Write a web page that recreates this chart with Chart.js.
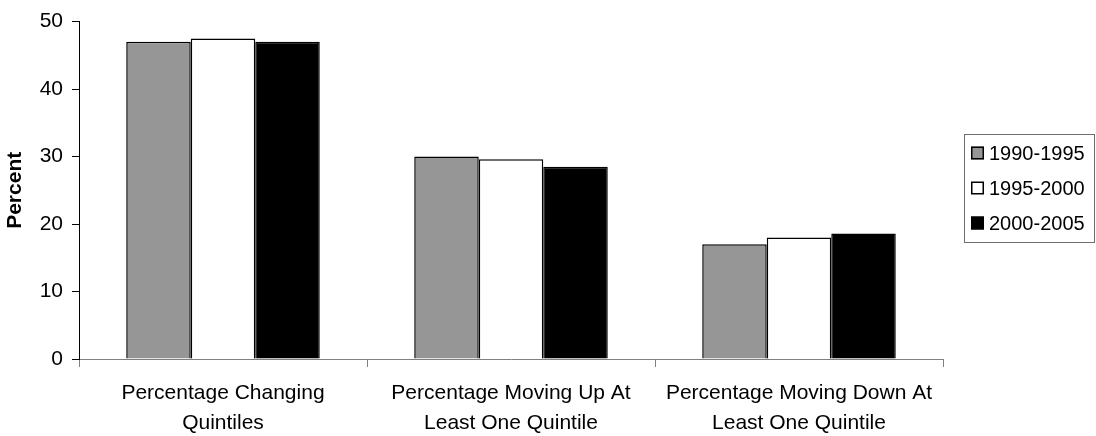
<!DOCTYPE html>
<html>
<head>
<meta charset="utf-8">
<script src="https://cdn.jsdelivr.net/npm/chart.js@4/dist/chart.umd.min.js"></script>
<style>
  html, body { margin: 0; padding: 0; background: #fff; }
  #wrap { width: 1096px; height: 436px; }
</style>
</head>
<body>
<div id="wrap"><canvas id="c" width="1096" height="436"></canvas></div>
<script>
// Categories (two-line labels) and the three period series
const categories = [
  ['Percentage Changing', 'Quintiles'],
  ['Percentage Moving Up At', 'Least One Quintile'],
  ['Percentage Moving Down At', 'Least One Quintile']
];
const seriesNames = ['1990-1995', '1995-2000', '2000-2005'];
const values1990 = [47, 30, 17];
const values1995 = [47.5, 29.6, 18];
const values2000 = [47, 28.5, 18.6];
const seriesColors = ['#969696', '#ffffff', '#000000'];
const yTicks = [0, 10, 20, 30, 40, 50];

const FONT = '"Liberation Sans", Arial, Helvetica, sans-serif';

// Boxed legend on the right, built from the chart's datasets
const boxedLegend = {
  id: 'boxedLegend',
  afterDraw(chart) {
    const ctx = chart.ctx;
    const x0 = 964, y0 = 134, w = 131, h = 108;
    ctx.save();
    ctx.strokeStyle = '#6e6e6e';
    ctx.lineWidth = 1;
    ctx.strokeRect(x0 + 0.5, y0 + 0.5, w - 1, h);
    ctx.font = '20px ' + FONT;
    ctx.textBaseline = 'middle';
    ctx.textAlign = 'left';
    chart.data.datasets.forEach((ds, i) => {
      const cy = 153 + i * 35;
      ctx.fillStyle = ds.backgroundColor;
      ctx.fillRect(971, cy - 6.5, 13, 13);
      ctx.strokeStyle = '#000';
      ctx.lineWidth = 1.5;
      ctx.strokeRect(971.75, cy - 5.75, 11.5, 11.5);
      ctx.fillStyle = '#000';
      ctx.fillText(ds.label, 989, cy + 1);
    });
    ctx.restore();
  }
};

new Chart(document.getElementById('c'), {
  type: 'bar',
  data: {
    labels: categories,
    datasets: [
      { label: seriesNames[0], data: values1990, backgroundColor: seriesColors[0] },
      { label: seriesNames[1], data: values1995, backgroundColor: seriesColors[1] },
      { label: seriesNames[2], data: values2000, backgroundColor: seriesColors[2] }
    ].map(d => Object.assign(d, {
      borderColor: '#000',
      borderWidth: 1.5,
      categoryPercentage: 0.672,
      barPercentage: 1.0
    }))
  },
  options: {
    responsive: false,
    animation: false,
    devicePixelRatio: 1,
    layout: { padding: { left: 0, right: 153, top: 17, bottom: 0 } },
    plugins: {
      legend: { display: false },
      tooltip: { enabled: false }
    },
    scales: {
      x: {
        grid: {
          display: true,
          drawOnChartArea: false,
          drawTicks: true,
          tickLength: 8,
          color: '#808080',
          offset: true
        },
        border: { display: true, color: '#808080', width: 1 },
        ticks: {
          color: '#000',
          padding: 11,
          maxRotation: 0,
          autoSkip: false,
          font: { family: FONT, size: 21, lineHeight: 1.43 }
        },
        afterFit(scale) { scale.height = 77; }
      },
      y: {
        min: 0,
        max: 50,
        afterBuildTicks(scale) { scale.ticks = yTicks.map(v => ({ value: v })); },
        grid: {
          display: true,
          drawOnChartArea: false,
          drawTicks: true,
          tickLength: 7,
          color: '#000'
        },
        border: { display: true, color: '#000', width: 1 },
        ticks: {
          color: '#000',
          padding: 9,
          font: { family: FONT, size: 21 }
        },
        title: {
          display: true,
          text: 'Percent',
          color: '#000',
          padding: { top: 3, bottom: 0 },
          font: { family: FONT, size: 21, weight: 'bold', lineHeight: 1.2 }
        },
        afterFit(scale) { scale.width = 79; }
      }
    }
  },
  plugins: [boxedLegend]
});
</script>
</body>
</html>
